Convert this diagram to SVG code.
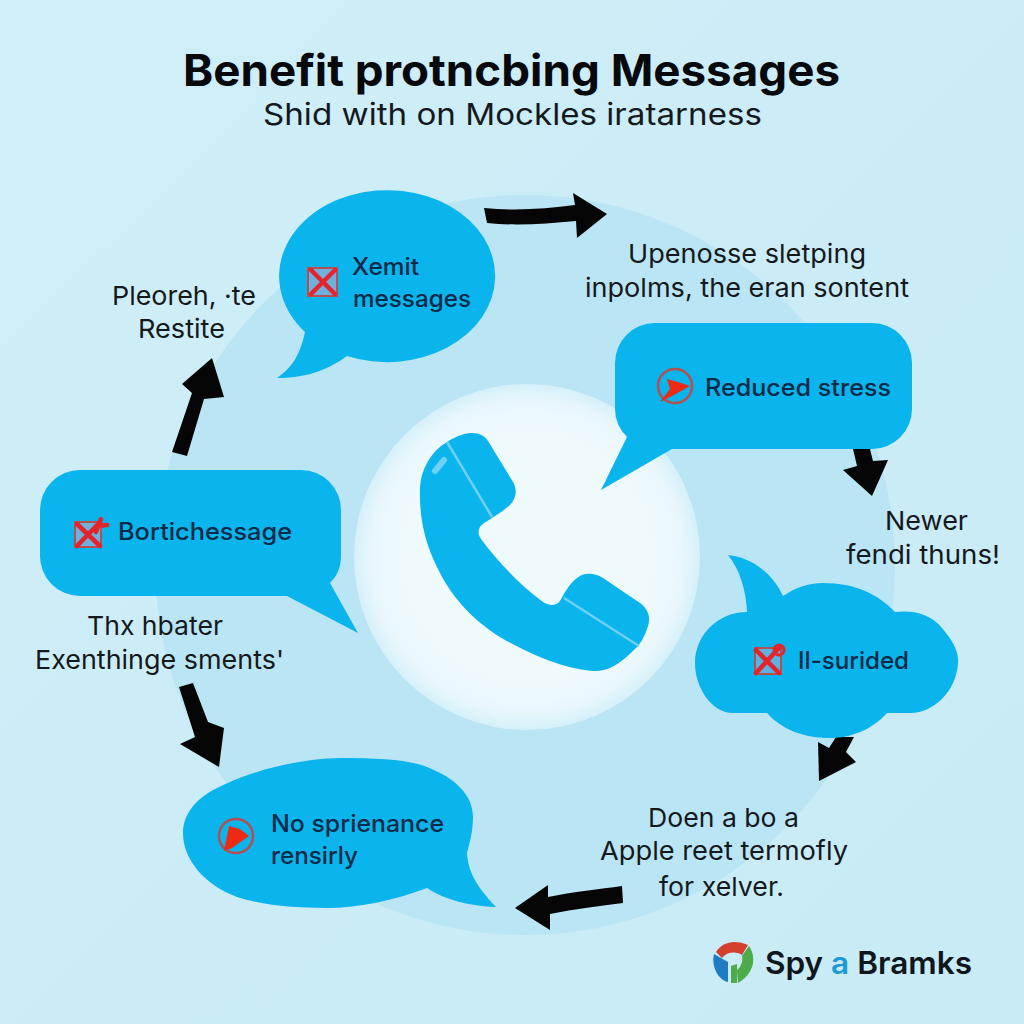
<svg xmlns="http://www.w3.org/2000/svg" width="1024" height="1024" viewBox="0 0 1024 1024">
<defs>
<style>
text{font-family:"Inter","Liberation Sans",sans-serif;text-anchor:start}
.b{fill:#0ab4ec}
.c{font-size:26px;fill:#15191e;font-weight:400}
.l{font-size:24px;fill:#0b2a47;font-weight:500}
.a{fill:#050505}
.xb{fill:#6fb0dc;stroke:#b4504f;stroke-width:2}
.x{fill:none;stroke:#e5232a;stroke-width:4.5;stroke-linecap:round}
.r{fill:none;stroke:#b4504f;stroke-width:2.5}
.t{fill:#ee2a12}
</style>
<linearGradient id="bg" x1="0" y1="0" x2="1" y2="1"><stop offset="0" stop-color="#cfeef8"/><stop offset="1" stop-color="#c8ebf6"/></linearGradient>
<radialGradient id="hub"><stop offset="0.7" stop-color="#effafd"/><stop offset="0.9" stop-color="#e9f7fc"/><stop offset="1" stop-color="#d5f0f9"/></radialGradient>
</defs>
<rect width="1024" height="1024" fill="url(#bg)"/>
<circle id="disc" cx="525" cy="565" r="370" fill="#bae5f4"/>
<circle cx="527" cy="557" r="173" fill="url(#hub)"/>

<g id="title">
<text x="183" y="86" fill="#07090c" font-weight="700" style="font-size:44px" textLength="657" lengthAdjust="spacingAndGlyphs">Benefit protncbing Messages</text>
<text x="263" y="125" fill="#15191e" style="font-size:30px" textLength="499" lengthAdjust="spacingAndGlyphs">Shid with on Mockles iratarness</text>
</g>

<g id="phone">
<path class="b" d="M447 442C458 435 466 433 472 433C480 433 485 436 488 441L513 482C517 489 517 498 510 505C502 512 492 518 484 523C478 527 477 533 481 539C498 562 520 585 543 602C550 606 556 606 560 601C565 592 570 583 577 578C583 573 593 572 603 578L640 603C648 609 651 617 648 626C645 635 642 642 636 648C628 656 620 663 612 667C604 671 595 672 585 670C565 668 532 656 500 637C470 618 450 595 436 565C424 540 419 515 420 487C421 470 430 452 447 442Z"/>
<path d="M447 442L492 517M564 598L639 646" fill="none" stroke="#6fd0f3" stroke-width="2.5"/>
<path d="M435 471L444 460" fill="none" stroke="#6fd0f3" stroke-width="6" stroke-linecap="round"/>
</g>

<g id="connectors">
<path class="a" d="M484 208C515 211 545 209 575 205L573 193L607 214L577 238L576 221C545 224 515 226 487 223Z"/>
<path class="a" d="M853 449L870 449L873 461L888 460L872 496L843 470L857 466Z"/>
<path class="a" d="M836 737L854 737L846 752L856 762L819 781L818 742L829 748Z"/>
<path class="a" d="M622 886L623 903C600 906 575 909 550 914L550 930L515 908L548 885L548 897C573 892 600 889 622 886Z"/>
<path class="a" d="M179 687L193 683L208 722L224 728L219 767L180 744L195 737Z"/>
<path class="a" d="M172 452L187 456L204 399L224 397L212 358L182 384L192 393Z"/>
</g>

<g id="node-xemit">
<path class="b" d="M305 332A108 86 0 1 1 347 356C330 368 310 378 277 378C292 368 300 355 305 332Z"/>
<rect class="xb" x="308" y="268" width="29" height="28"/>
<path class="x" d="M311 270L335 294M335 270L311 294"/>
<text class="l" x="352" y="275" textLength="67" lengthAdjust="spacingAndGlyphs">Xemit</text>
<text class="l" x="353" y="307" textLength="118" lengthAdjust="spacingAndGlyphs">messages</text>
</g>

<g id="node-reduced">
<path class="b" d="M655 323H872A40 40 0 0 1 912 363V409A40 40 0 0 1 872 449H672L601 490L627 437A40 40 0 0 1 615 409V363A40 40 0 0 1 655 323Z"/>
<circle class="r" cx="675" cy="386" r="17"/>
<path class="t" d="M667 379L678 382L690 386L672 396L660 402L670 389Z"/>
<text class="l" x="705" y="396" textLength="186" lengthAdjust="spacingAndGlyphs">Reduced stress</text>
</g>

<g id="node-surided">
<path class="b" d="M747 612C746 590 740 570 728 555C750 557 772 572 783 596C795 588 808 583 823 583C855 583 878 594 895 612C912 610 930 613 942 628C952 640 959 650 958 664C956 690 935 713 910 713H887C872 730 850 738 830 738C805 738 782 730 767 713H733C712 713 695 688 695 663C695 635 718 612 747 612Z"/>
<rect class="xb" x="755" y="648" width="26" height="26" fill-opacity="0.8"/>
<path class="x" d="M756 650L779 673M779 648L756 673"/>
<circle cx="779" cy="650" r="5" fill="none" stroke="#e5232a" stroke-width="3"/>
<text class="l" x="798" y="669" textLength="111" lengthAdjust="spacingAndGlyphs">Il-surided</text>
</g>

<g id="node-bortic">
<path class="b" d="M80 470H301A40 40 0 0 1 341 510V555C341 568 337 576 330 583L358 633L287 596H80A40 40 0 0 1 40 555V510A40 40 0 0 1 80 470Z"/>
<rect class="xb" x="75" y="522" width="26" height="25"/>
<path class="x" d="M77 524L100 546M100 522L77 546M96 532L101 519M96 526L107 525"/>
<text class="l" x="118" y="540" textLength="174" lengthAdjust="spacingAndGlyphs">Bortichessage</text>
</g>

<g id="node-sprienance">
<path class="b" d="M183 833C183 815 195 800 213 790C250 771 295 759 340 758C380 758 410 760 427 767C455 778 473 795 473 817C473 830 470 842 467 853C468 870 475 885 496 907C470 906 445 900 427 888C395 900 360 908 327 908C290 908 262 905 237 897C205 885 183 860 183 833Z"/>
<circle class="r" cx="236" cy="836" r="17"/>
<path class="t" d="M229 826L240 829L249 836L232 848L224 851Z"/>
<text class="l" x="271" y="832" textLength="173" lengthAdjust="spacingAndGlyphs">No sprienance</text>
<text class="l" x="271" y="864" textLength="87" lengthAdjust="spacingAndGlyphs">rensirly</text>
</g>

<g id="captions">
<text class="c" x="628" y="263" textLength="238" lengthAdjust="spacingAndGlyphs">Upenosse sletping</text>
<text class="c" x="585" y="297" textLength="324" lengthAdjust="spacingAndGlyphs">inpolms, the eran sontent</text>
<text class="c" x="112" y="305" textLength="144" lengthAdjust="spacingAndGlyphs">Pleoreh, ·te</text>
<text class="c" x="138" y="338" textLength="87" lengthAdjust="spacingAndGlyphs">Restite</text>
<text class="c" x="885" y="530" textLength="83" lengthAdjust="spacingAndGlyphs">Newer</text>
<text class="c" x="846" y="564" textLength="154" lengthAdjust="spacingAndGlyphs">fendi thuns!</text>
<text class="c" x="648" y="827" textLength="151" lengthAdjust="spacingAndGlyphs">Doen a bo a</text>
<text class="c" x="600" y="860" textLength="248" lengthAdjust="spacingAndGlyphs">Apple reet termofly</text>
<text class="c" x="659" y="896" textLength="125" lengthAdjust="spacingAndGlyphs">for xelver.</text>
<text class="c" x="87" y="635" textLength="136" lengthAdjust="spacingAndGlyphs">Thx hbater</text>
<text class="c" x="35" y="669" textLength="249" lengthAdjust="spacingAndGlyphs">Exenthinge sments'</text>
</g>

<g id="logo">
<path d="M716 952C722 942 735 939 748 945L742 955C735 951 727 952 722 958Z" fill="#d23f2c"/>
<path d="M749 946C757 958 754 974 738 983L737 970C742 966 743 960 742 956Z" fill="#4dab4a"/>
<path d="M714 954L728 962L728 982C718 980 711 966 714 954Z" fill="#1f7cc4"/>
<path d="M731 966L737 964L737 983L731 983Z" fill="#4dab4a"/>
<text x="765" y="974" fill="#10161d" font-weight="600" style="font-size:31px" textLength="207" lengthAdjust="spacingAndGlyphs">Spy <tspan fill="#1c9ad8">a</tspan> Bramks</text>
</g>
</svg>
